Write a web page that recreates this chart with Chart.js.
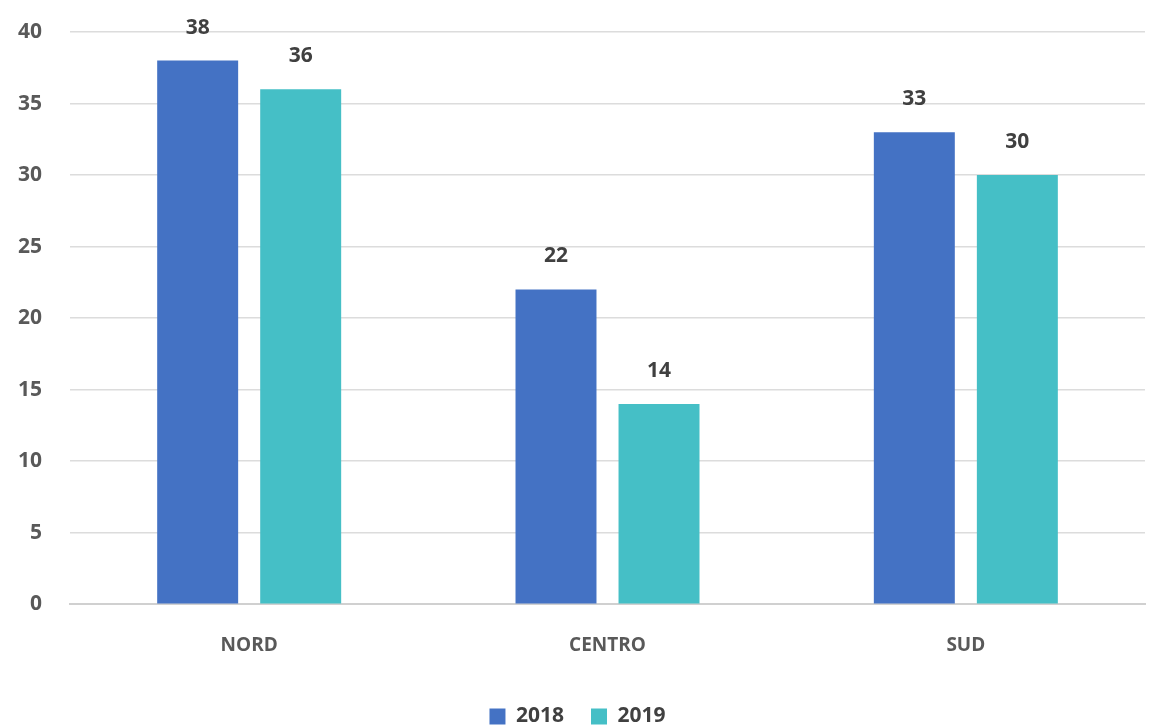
<!DOCTYPE html>
<html>
<head>
<meta charset="utf-8">
<script src="https://cdn.jsdelivr.net/npm/chart.js@4/dist/chart.umd.min.js"></script>
<style>
  html, body { margin: 0; padding: 0; background: #fff; }
  #wrap { width: 1153px; height: 725px; }
</style>
</head>
<body>
<div id="wrap"><canvas id="graficoZone"></canvas></div>
<script>
// Dati del grafico
var aree = ['NORD', 'CENTRO', 'SUD'];
var anni = ['2018', '2019'];
var valori2018 = [38, 22, 33];
var valori2019 = [36, 14, 30];
var colori = ['#4472C4', '#45BFC6'];

// Etichette dei valori sopra le barre
var etichettePlugin = {
    id: 'etichette',
    afterDatasetsDraw: function(chart) {
        var ctx = chart.ctx;
        ctx.save();
        ctx.font = 'bold 21px "Open Sans"';
        ctx.fillStyle = '#404040';
        ctx.textAlign = 'center';
        ctx.textBaseline = 'middle';
        chart.data.datasets.forEach(function(ds, i) {
            var meta = chart.getDatasetMeta(i);
            meta.data.forEach(function(bar, j) {
                ctx.fillText(ds.data[j], bar.x, bar.y - 33);
            });
        });
        ctx.restore();
    }
};

var ctxZone = document.getElementById('graficoZone').getContext('2d');
var graficoZone = new Chart(ctxZone, {
    type: 'bar',
    data: {
        labels: aree,
        datasets: [{
            label: anni[0],
            data: valori2018,
            backgroundColor: colori[0],
            barPercentage: 0.786,
            categoryPercentage: 0.575
        }, {
            label: anni[1],
            data: valori2019,
            backgroundColor: colori[1],
            barPercentage: 0.786,
            categoryPercentage: 0.575
        }]
    },
    options: {
        responsive: true,
        maintainAspectRatio: false,
        animation: false,
        layout: { padding: { top: 32, right: 8, left: 10, bottom: -12 } },
        plugins: {
            tooltip: { enabled: false },
            legend: {
                position: 'bottom',
                labels: {
                    boxWidth: 16,
                    boxHeight: 16,
                    padding: 27,
                    color: '#404040',
                    font: { family: 'Open Sans', size: 21, weight: 'bold' }
                }
            }
        },
        scales: {
            x: {
                grid: { display: false },
                border: { color: '#d0d0d0', width: 2 },
                ticks: {
                    color: '#595959',
                    padding: 22,
                    font: { family: 'Open Sans', size: 19, weight: 'bold' }
                }
            },
            y: {
                min: 0,
                max: 40,
                ticks: {
                    stepSize: 5,
                    color: '#595959',
                    padding: 8,
                    font: { family: 'Open Sans', size: 21, weight: 'bold' }
                },
                grid: { color: '#dcdcdc', lineWidth: 1.5, drawTicks: true, tickLength: 20, tickColor: 'rgba(0,0,0,0)' },
                border: { display: false }
            }
        }
    },
    plugins: [etichettePlugin]
});
</script>
</body>
</html>
